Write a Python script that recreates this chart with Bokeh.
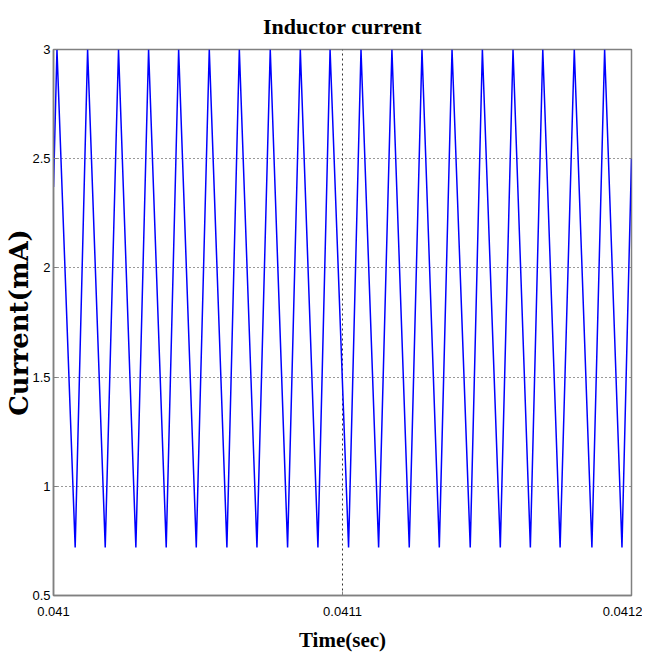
from bokeh.plotting import figure
from bokeh.models import Range1d, FixedTicker
from bokeh.embed import file_html
from bokeh.resources import INLINE

# Vertices of the inductor-current waveform (time in s, current in mA)
time_s = [
    0.0410000,
    0.0410012, 0.0410075, 0.0410118, 0.0410179, 0.0410225, 0.0410285,
    0.0410329, 0.0410390, 0.0410433, 0.0410494, 0.0410539, 0.0410600,
    0.0410643, 0.0410704, 0.0410750, 0.0410810, 0.0410854, 0.0410915,
    0.0410957, 0.0411021, 0.0411064, 0.0411125, 0.0411171, 0.0411231,
    0.0411275, 0.0411335, 0.0411379, 0.0411442, 0.0411484, 0.0411546,
    0.0411590, 0.0411650, 0.0411693, 0.0411753, 0.0411802, 0.0411863,
    0.0411907, 0.0411967,
    0.0412000,
]
current_mA = [
    2.37,
    3.0, 0.72, 3.0, 0.72, 3.0, 0.72,
    3.0, 0.72, 3.0, 0.72, 3.0, 0.72,
    3.0, 0.72, 3.0, 0.72, 3.0, 0.72,
    3.0, 0.72, 3.0, 0.72, 3.0, 0.72,
    3.0, 0.72, 3.0, 0.72, 3.0, 0.72,
    3.0, 0.72, 3.0, 0.72, 3.0, 0.72,
    3.0, 0.72,
    2.5,
]

x_ticks = [0.041, 0.0411, 0.0412]
x_tick_labels = ["0.041", "0.0411", "0.0412"]
y_ticks = [0.5, 1, 1.5, 2, 2.5, 3]
y_tick_labels = ["0.5", "1", "1.5", "2", "2.5", "3"]

title_text = "Inductor current"
x_label = "Time(sec)"
y_label = "Current(mA)"

p = figure(
    frame_width=578, frame_height=546,
    x_range=Range1d(0.041, 0.0412), y_range=Range1d(0.5, 3),
    output_backend="svg", toolbar_location=None,
    min_border_left=53, min_border_right=11, min_border_top=0, min_border_bottom=58,
    background_fill_color="white", border_fill_color="white",
)

p.line(time_s, current_mA, line_color="#0000ff", line_width=1.5)

p.title.text = title_text
p.title.align = "center"
p.title.text_font = "Liberation Serif"
p.title.text_font_style = "bold"
p.title.text_font_size = "22px"
p.title.text_color = "black"
p.title.standoff = 22
p.title.offset = -3

p.outline_line_color = "#808080"
p.outline_line_width = 1.5
p.outline_line_alpha = 1.0

for ax in (p.xaxis[0], p.yaxis[0]):
    ax.axis_line_color = "#808080"
    ax.axis_line_width = 1.5
    ax.major_tick_in = 4
    ax.major_tick_out = 0
    ax.major_tick_line_color = "#808080"
    ax.minor_tick_line_color = None
    ax.major_label_text_font = "Liberation Sans"
    ax.major_label_text_font_size = "13px"
    ax.major_label_text_color = "black"
    ax.axis_label_text_color = "black"
    ax.axis_label_text_font_style = "bold"

p.xaxis.ticker = FixedTicker(ticks=x_ticks)
p.xaxis.major_label_overrides = {t: s for t, s in zip(x_ticks, x_tick_labels)}
p.xaxis.major_label_standoff = 11
p.xaxis.axis_label = x_label
p.xaxis.axis_label_text_font = "Liberation Serif"
p.xaxis.axis_label_text_font_size = "21px"
p.xaxis.axis_label_standoff = 9

p.yaxis.ticker = FixedTicker(ticks=y_ticks)
p.yaxis.major_label_overrides = {t: s for t, s in zip(y_ticks, y_tick_labels)}
p.yaxis.major_label_standoff = 3
p.yaxis.axis_label = y_label
p.yaxis.axis_label_text_font = "DejaVu Serif"
p.yaxis.axis_label_text_font_size = "26px"
p.yaxis.axis_label_standoff = -5

p.xgrid.grid_line_color = "#333333"
p.xgrid.grid_line_dash = "2 3"
p.xgrid.grid_line_width = 1
p.ygrid.grid_line_color = "#333333"
p.ygrid.grid_line_dash = "1 3"
p.ygrid.grid_line_width = 1

open("out.html", "w").write(file_html(p, INLINE))
